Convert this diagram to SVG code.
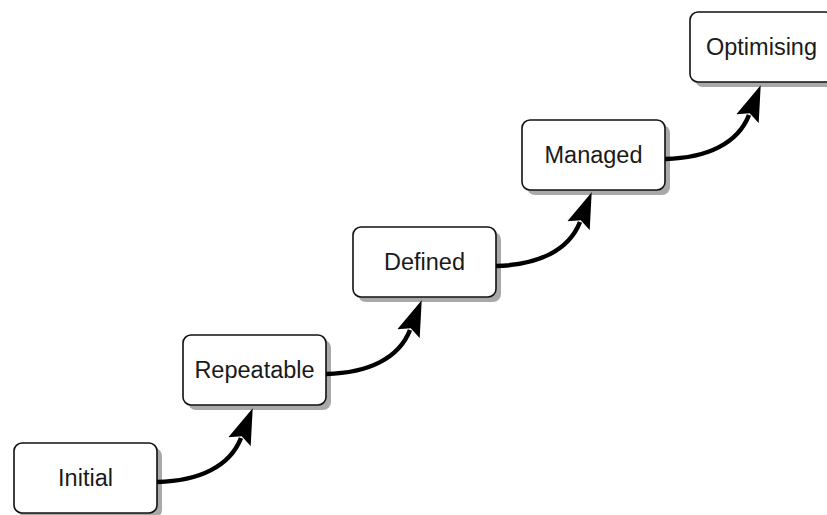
<svg xmlns="http://www.w3.org/2000/svg" width="827" height="515" viewBox="0 0 827 515">
  <style>
    .shadow { fill: #a9a9a9; }
    .box { fill: #ffffff; stroke: #111111; stroke-width: 1.6; }
    .label { font-family: "Liberation Sans", Arial, sans-serif; font-size: 23.5px; fill: #1a1a1a; text-anchor: middle; }
    .link { fill: none; stroke: #000000; stroke-width: 4.5; marker-end: url(#head); }
  </style>
  <defs>
    <marker id="head" markerUnits="userSpaceOnUse" viewBox="0 -13 40 26" markerWidth="40" markerHeight="26" refX="4" refY="0" orient="auto">
      <path d="M0,-12 L36,0 L0,12 L6,0 Z" fill="#000000"/>
    </marker>
  </defs>

  <rect width="827" height="515" fill="#ffffff"/>

  <!-- stages, each a rounded box with a drop shadow -->
  <g id="initial" transform="translate(14,443)">
    <rect class="shadow" x="5" y="5" width="143" height="70" rx="8"/>
    <rect class="box" x="0" y="0" width="143" height="70" rx="8"/>
    <text class="label" x="71.5" y="43">Initial</text>
  </g>
  <g id="repeatable" transform="translate(183,335)">
    <rect class="shadow" x="5" y="5" width="143" height="70" rx="8"/>
    <rect class="box" x="0" y="0" width="143" height="70" rx="8"/>
    <text class="label" x="71.5" y="43">Repeatable</text>
  </g>
  <g id="defined" transform="translate(353,227)">
    <rect class="shadow" x="5" y="5" width="143" height="70" rx="8"/>
    <rect class="box" x="0" y="0" width="143" height="70" rx="8"/>
    <text class="label" x="71.5" y="43">Defined</text>
  </g>
  <g id="managed" transform="translate(522,120)">
    <rect class="shadow" x="5" y="5" width="143" height="70" rx="8"/>
    <rect class="box" x="0" y="0" width="143" height="70" rx="8"/>
    <text class="label" x="71.5" y="43">Managed</text>
  </g>
  <g id="optimising" transform="translate(690,12)">
    <rect class="shadow" x="5" y="5" width="143" height="70" rx="8"/>
    <rect class="box" x="0" y="0" width="143" height="70" rx="8"/>
    <text class="label" x="71.5" y="43">Optimising</text>
  </g>

  <!-- curved arrows climbing from each stage to the next -->
  <g id="connectors">
    <path class="link" d="M157,482 C200,481 230,466 241,438"/>
    <path class="link" d="M326,374 C369,373 399,358 410,330"/>
    <path class="link" d="M496,266 C539,265 569,250 580,222"/>
    <path class="link" d="M665,159 C708,158 738,143 749,115"/>
  </g>
</svg>
